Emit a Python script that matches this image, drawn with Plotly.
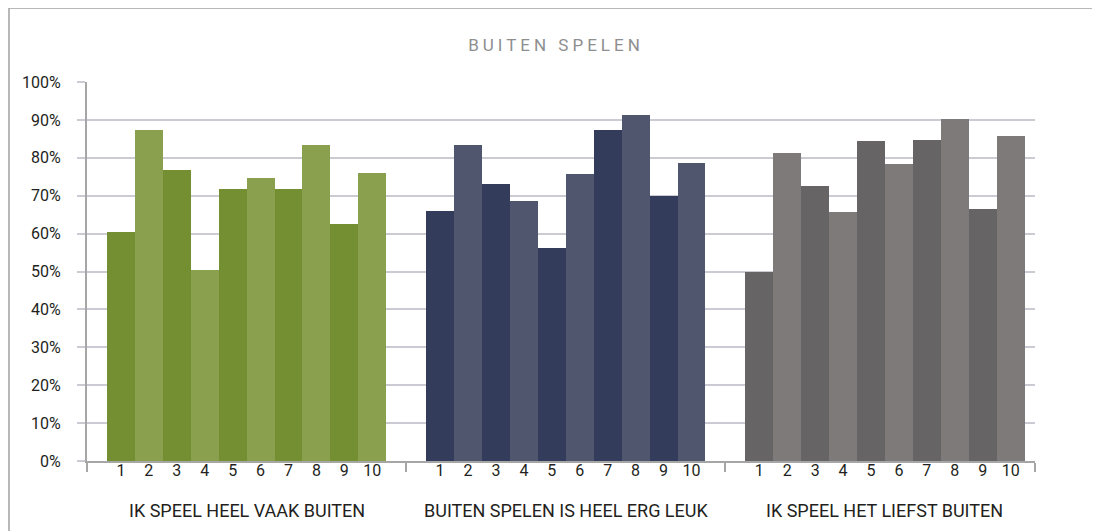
import plotly.graph_objects as go

# ---- data ----
categories = ["IK SPEEL HEEL VAAK BUITEN", "BUITEN SPELEN IS HEEL ERG LEUK", "IK SPEEL HET LIEFST BUITEN"]
scores = ["1", "2", "3", "4", "5", "6", "7", "8", "9", "10"]
vaak_buiten = [60.4, 87.3, 76.8, 50.4, 71.8, 74.7, 71.8, 83.4, 62.5, 76.0]
erg_leuk = [66.0, 83.4, 73.1, 68.6, 56.3, 75.7, 87.3, 91.3, 69.9, 78.6]
liefst_buiten = [49.9, 81.3, 72.6, 65.7, 84.4, 78.4, 84.7, 90.2, 66.5, 85.8]
series = [vaak_buiten, erg_leuk, liefst_buiten]
y_ticks = [0, 10, 20, 30, 40, 50, 60, 70, 80, 90, 100]
y_ticktext = [f"{v}%" for v in y_ticks]

# ---- style ----
palettes = [("#738F31", "#8BA04F"), ("#343C5C", "#51566F"), ("#666465", "#7E7A79")]
FONT = "Roboto, sans-serif"
TEXT = "#231F20"
GRID = "#CCCBD3"
AXIS = "#A6A6A6"
bar_w = 0.0875

# page body adds an 8px offset; layout below is expressed in figure pixels
L, R, T, B = 79, 73, 74, 78
W, H = 1100, 531
PW, PH = W - L - R, H - T - B

fig = go.Figure()
tickvals, ticktext = [], []
for g, (cat, vals) in enumerate(zip(categories, series)):
    xs = [g + (i - (len(scores) - 1) / 2) * bar_w for i in range(len(scores))]
    colors = [palettes[g][i % 2] for i in range(len(scores))]
    fig.add_trace(go.Bar(
        x=xs, y=vals, width=bar_w, marker=dict(color=colors, line=dict(width=0)),
        name=cat, showlegend=False,
        customdata=scores, hovertemplate=cat + " %{customdata}: %{y:.0f}%<extra></extra>",
    ))
    tickvals += xs
    ticktext += scores

x_end = 2.47
fig.update_xaxes(
    range=[-0.5, x_end], tickmode="array", tickvals=tickvals, ticktext=ticktext,
    ticks="", showgrid=False, zeroline=False,
    showline=True, linecolor=AXIS, linewidth=2,
    ticklabelstandoff=-6,
    tickfont=dict(family=FONT, size=16, color=TEXT),
    minor=dict(tickmode="array", tickvals=[-0.5, 0.5, 1.5, x_end], ticks="outside",
               ticklen=9, tickwidth=2, tickcolor=AXIS, showgrid=False),
)
fig.update_yaxes(
    range=[0, 100], tickmode="array", tickvals=y_ticks, ticktext=y_ticktext,
    showgrid=True, gridcolor=GRID, gridwidth=2, zeroline=False,
    showline=True, linecolor=AXIS, linewidth=2,
    ticks="outside", ticklen=8, tickwidth=2, tickcolor=GRID,
    ticklabelstandoff=13,
    tickfont=dict(family=FONT, size=16, color=TEXT),
)

for g, cat in enumerate(categories):
    fig.add_annotation(x=g, y=-49 / PH, xref="x", yref="paper", text=cat, showarrow=False,
                       yanchor="middle", font=dict(family=FONT, size=18, color=TEXT))

# frame around chart (cropped at right/bottom)
fx = (1 - L) / PW
fy = (H - B - 0) / PH
fig.add_shape(type="line", xref="paper", yref="paper", x0=fx, x1=fx, y0=fy, y1=-0.3,
              line=dict(color="#A0A0A0", width=1.5))
fig.add_shape(type="line", xref="paper", yref="paper", x0=fx, x1=1.1, y0=fy, y1=fy,
              line=dict(color="#A0A0A0", width=1.5))

fig.update_layout(
    width=W, height=H,
    margin=dict(l=L, r=R, t=T, b=B),
    paper_bgcolor="white", plot_bgcolor="white",
    bargap=0,
    title=dict(text='<span style="letter-spacing:4px">BUITEN SPELEN</span>',
               x=(556 - 8) / W, xref="container", y=1 - 37 / H, yref="container",
               xanchor="center", yanchor="middle",
               font=dict(family=FONT, size=17, color="#8E8E8E")),
)

fig.write_html("out.html")
